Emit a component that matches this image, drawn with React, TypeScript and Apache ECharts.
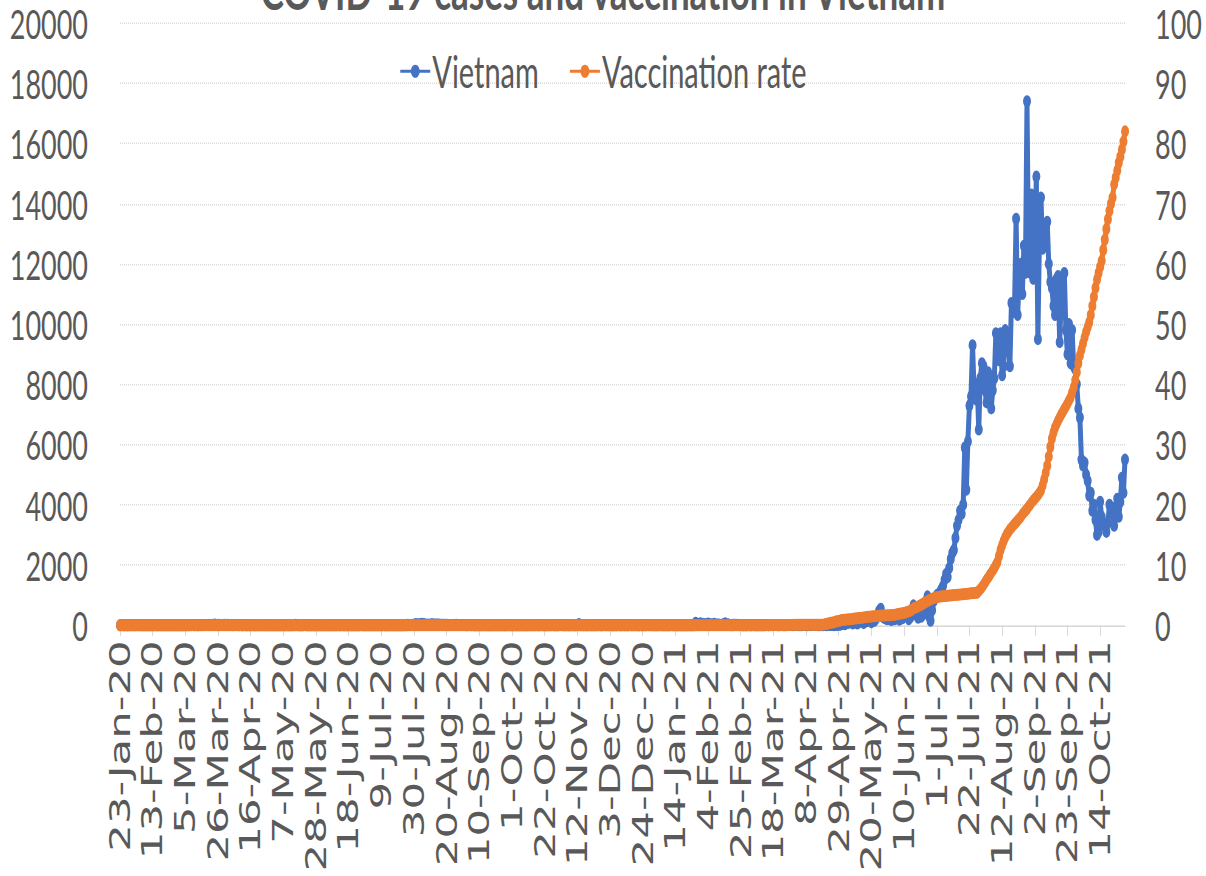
import React, { useEffect, useRef } from "react";
import * as echarts from "echarts";

// First day of the daily series: 23-Jan-2020 (last day: 30-Oct-2021)
const START_YEAR = 2020;
const START_MONTH = 0;
const START_DAY = 23;
const MONTH_NAMES = ["Jan", "Feb", "Mar", "Apr", "May", "Jun", "Jul", "Aug", "Sep", "Oct", "Nov", "Dec"];

const SERIES_NAMES = ["Vietnam", "Vaccination rate"];
const TITLE = "COVID-19 cases and vaccination in Vietnam";

// Daily new cases (left axis)
const casesVietnam = [
  // Jan 2020 (23-31)
  0, 2, 0, 0, 0, 0, 0, 0, 2,
  // Feb 2020
  0, 1, 2, 0, 2, 0, 1, 0, 0, 0, 0, 0, 0, 0, 0, 0, 0, 0, 0, 0, 0, 0, 0, 0, 0, 0, 0, 0, 0,
  // Mar 2020
  0, 0, 0, 0, 0, 2, 1, 2, 6, 9, 3, 8, 1, 9, 3, 4, 8, 8, 6, 6, 9, 7, 16, 21, 11, 14, 5, 5, 4, 15, 8,
  // Apr 2020
  14, 10, 6, 3, 4, 10, 4, 6, 3, 2, 1, 4, 1, 2, 0, 0, 3, 0, 0, 0, 0, 0, 2, 0, 0, 0, 0, 0, 0, 0,
  // May 2020
  0, 0, 0, 0, 0, 0, 0, 0, 0, 0, 0, 0, 0, 0, 15, 2, 0, 0, 0, 2, 4, 1, 0, 1, 1, 0, 0, 0, 0, 1, 1,
  // Jun 2020
  0, 0, 0, 0, 0, 0, 0, 1, 1, 0, 2, 0, 0, 2, 0, 0, 0, 0, 0, 0, 0, 0, 0, 0, 0, 3, 0, 0, 0, 0,
  // Jul 2020
  0, 0, 0, 0, 0, 0, 0, 0, 0, 0, 0, 0, 0, 0, 0, 0, 0, 0, 0, 0, 0, 0, 1, 0, 3, 15, 11, 11, 13, 9, 45,
  // Aug 2020
  28, 32, 31, 51, 43, 30, 20, 21, 14, 30, 29, 27, 21, 22, 24, 20, 18, 16, 13, 13, 10, 9, 8, 7, 6, 12, 11, 9, 8, 5, 4,
  // Sep 2020
  3, 2, 3, 4, 2, 1, 1, 0, 1, 0, 0, 0, 2, 1, 0, 0, 0, 0, 0, 1, 3, 0, 0, 1, 0, 0, 0, 0, 3, 0,
  // Oct 2020
  1, 1, 1, 1, 0, 0, 0, 0, 0, 0, 0, 1, 1, 3, 0, 0, 3, 0, 1, 4, 0, 0, 0, 0, 2, 0, 6, 0, 0, 1, 0,
  // Nov 2020
  7, 7, 0, 0, 3, 1, 0, 0, 2, 1, 1, 3, 42, 2, 0, 2, 0, 0, 0, 3, 1, 0, 1, 2, 0, 7, 1, 0, 6, 2,
  // Dec 2020
  3, 1, 7, 0, 0, 1, 0, 4, 0, 1, 1, 2, 0, 0, 1, 5, 0, 0, 2, 1, 0, 0, 3, 0, 0, 0, 4, 2, 2, 2, 0,
  // Jan 2021
  0, 0, 0, 2, 2, 0, 0, 0, 0, 1, 3, 2, 0, 0, 0, 0, 0, 1, 0, 1, 0, 0, 0, 0, 0, 0, 84, 2, 44, 69, 46,
  // Feb 2021
  40, 34, 30, 57, 45, 27, 28, 53, 19, 26, 27, 5, 13, 38, 62, 18, 30, 9, 0, 20, 13, 12, 9, 11, 8, 1, 0, 0,
  // Mar 2021
  0, 8, 1, 3, 3, 3, 1, 1, 3, 0, 0, 1, 2, 4, 0, 3, 2, 2, 5, 2, 0, 1, 9, 0, 0, 0, 10, 3, 6, 2, 3,
  // Apr 2021
  5, 9, 2, 3, 0, 7, 8, 3, 2, 5, 2, 5, 10, 4, 4, 1, 2, 3, 0, 9, 1, 7, 15, 6, 4, 1, 10, 10, 18, 13,
  // May 2021
  54, 41, 30, 86, 72, 118, 114, 58, 90, 118, 55, 100, 150, 140, 70, 160, 130, 165, 216, 100,
  180, 150, 225, 320, 480, 550, 300, 250, 230, 200, 260,
  // Jun 2021
  190, 170, 280, 200, 250, 300, 180, 220, 230, 350, 320, 280, 200, 260, 400, 660, 500, 350, 250, 300,
  280, 350, 450, 700, 960, 300, 150, 500, 800, 900,
  // Jul 2021
  1000, 1000, 1100, 1200, 1300, 1500, 1700, 1600, 1900, 2200,
  2400, 2500, 2900, 3300, 3500, 3800, 3700, 4000, 5900, 4500,
  6100, 7300, 7600, 9300, 7800, 7500, 8000, 6500, 8200, 8700,
  8600,
  // Aug 2021
  7800, 7400, 8400, 7600, 7200, 7800, 8200, 9700, 9200, 8800,
  9700, 8300, 8600, 9800, 9500, 9300, 8600, 10700, 10400, 10600,
  13500, 10300, 11500, 12000, 11000, 12600, 11700, 17400, 12100, 11700,
  14300,
  // Sep 2021
  11500, 12400, 14900, 9500, 12800, 14200, 12500, 12800, 13300, 13400,
  12000, 11400, 11200, 10600, 10300, 11500, 11600, 9400, 10800, 11300,
  11700, 9800, 9000, 10000, 8700, 9800, 8600, 8500, 8000, 7200,
  // Oct 2021 (1-30)
  6900, 5500, 5300, 5400, 5000, 4800, 4300, 4400, 3800, 4000,
  3500, 3000, 3100, 4100, 3600, 3400, 3300, 3100, 3400, 4000,
  3800, 3900, 3300, 3700, 4200, 3600, 4100, 4900, 4400, 5500,
];

// Vaccination rate, % (right axis)
const vaccinationRate = [
  // 23-Jan-2020 .. 7-Mar-2021: no vaccination yet (410 days)
  0, 0, 0, 0, 0, 0, 0, 0, 0, 0, 0, 0, 0, 0, 0, 0, 0, 0, 0, 0,
  0, 0, 0, 0, 0, 0, 0, 0, 0, 0, 0, 0, 0, 0, 0, 0, 0, 0, 0, 0,
  0, 0, 0, 0, 0, 0, 0, 0, 0, 0, 0, 0, 0, 0, 0, 0, 0, 0, 0, 0,
  0, 0, 0, 0, 0, 0, 0, 0, 0, 0, 0, 0, 0, 0, 0, 0, 0, 0, 0, 0,
  0, 0, 0, 0, 0, 0, 0, 0, 0, 0, 0, 0, 0, 0, 0, 0, 0, 0, 0, 0,
  0, 0, 0, 0, 0, 0, 0, 0, 0, 0, 0, 0, 0, 0, 0, 0, 0, 0, 0, 0,
  0, 0, 0, 0, 0, 0, 0, 0, 0, 0, 0, 0, 0, 0, 0, 0, 0, 0, 0, 0,
  0, 0, 0, 0, 0, 0, 0, 0, 0, 0, 0, 0, 0, 0, 0, 0, 0, 0, 0, 0,
  0, 0, 0, 0, 0, 0, 0, 0, 0, 0, 0, 0, 0, 0, 0, 0, 0, 0, 0, 0,
  0, 0, 0, 0, 0, 0, 0, 0, 0, 0, 0, 0, 0, 0, 0, 0, 0, 0, 0, 0,
  0, 0, 0, 0, 0, 0, 0, 0, 0, 0, 0, 0, 0, 0, 0, 0, 0, 0, 0, 0,
  0, 0, 0, 0, 0, 0, 0, 0, 0, 0, 0, 0, 0, 0, 0, 0, 0, 0, 0, 0,
  0, 0, 0, 0, 0, 0, 0, 0, 0, 0, 0, 0, 0, 0, 0, 0, 0, 0, 0, 0,
  0, 0, 0, 0, 0, 0, 0, 0, 0, 0, 0, 0, 0, 0, 0, 0, 0, 0, 0, 0,
  0, 0, 0, 0, 0, 0, 0, 0, 0, 0, 0, 0, 0, 0, 0, 0, 0, 0, 0, 0,
  0, 0, 0, 0, 0, 0, 0, 0, 0, 0, 0, 0, 0, 0, 0, 0, 0, 0, 0, 0,
  0, 0, 0, 0, 0, 0, 0, 0, 0, 0, 0, 0, 0, 0, 0, 0, 0, 0, 0, 0,
  0, 0, 0, 0, 0, 0, 0, 0, 0, 0, 0, 0, 0, 0, 0, 0, 0, 0, 0, 0,
  0, 0, 0, 0, 0, 0, 0, 0, 0, 0, 0, 0, 0, 0, 0, 0, 0, 0, 0, 0,
  0, 0, 0, 0, 0, 0, 0, 0, 0, 0, 0, 0, 0, 0, 0, 0, 0, 0, 0, 0,
  0, 0, 0, 0, 0, 0, 0, 0, 0, 0,
  // 8-Mar-2021 .. 31-Mar-2021
  0, 0, 0, 0, 0.01, 0.01, 0.01, 0.01, 0.02, 0.02, 0.02, 0.03, 0.03, 0.03, 0.03, 0.04, 0.04, 0.04,
  0.05, 0.05, 0.05, 0.05, 0.05, 0.06,
  // Apr 2021
  0.06, 0.06, 0.06, 0.06, 0.06, 0.06, 0.06, 0.06, 0.06, 0.07, 0.07, 0.07, 0.07, 0.07, 0.08, 0.08, 0.08, 0.09,
  0.1, 0.15, 0.2, 0.3, 0.35, 0.4, 0.45, 0.5, 0.6, 0.65, 0.7, 0.8,
  // May 2021
  0.85, 0.9, 0.92, 0.95, 0.97, 1.0, 1.0, 1.05, 1.1, 1.12,
  1.15, 1.2, 1.22, 1.25, 1.3, 1.32, 1.35, 1.4, 1.42, 1.45,
  1.48, 1.5, 1.52, 1.55, 1.57, 1.6, 1.6, 1.62, 1.63, 1.65,
  1.66,
  // Jun 2021
  1.67, 1.68, 1.7, 1.75, 1.8, 1.85, 1.9, 1.95, 2.0, 2.05,
  2.1, 2.2, 2.3, 2.4, 2.55, 2.8, 2.9, 3.0, 3.1, 3.25,
  3.4, 3.55, 3.7, 3.85, 4.0, 4.15, 4.3, 4.4, 4.5, 4.6,
  // Jul 2021
  4.65, 4.7, 4.75, 4.8, 4.82, 4.85, 4.87, 4.9, 4.92, 4.95,
  4.97, 5.0, 5.02, 5.05, 5.07, 5.1, 5.12, 5.15, 5.18, 5.2,
  5.23, 5.26, 5.3, 5.33, 5.36, 5.38, 5.4, 5.7, 6.0, 6.3,
  6.7,
  // Aug 2021
  7.1, 7.5, 7.9, 8.3, 8.7, 9.1, 9.5, 10.0, 10.5, 11.5,
  12.5, 13.3, 14.0, 14.6, 15.1, 15.5, 15.9, 16.2, 16.5, 16.8,
  17.1, 17.4, 17.7, 18.0, 18.4, 18.7, 19.0, 19.3, 19.7, 20.0,
  20.4,
  // Sep 2021
  20.7, 21.0, 21.3, 21.6, 22.0, 22.4, 23.2, 24.2, 25.3, 26.5,
  28.0, 29.6, 31.0, 32.0, 32.8, 33.4, 34.0, 34.5, 35.0, 35.4,
  35.9, 36.3, 36.8, 37.3, 37.8, 38.6, 39.5, 40.7, 42.0, 43.5,
  // Oct 2021 (1-30)
  44.8, 45.8, 46.8, 47.8, 48.7, 49.5, 50.3, 51.5, 53.0, 54.5,
  56.0, 57.4, 58.5, 59.5, 60.5, 62.3, 64.0, 65.8, 67.4, 68.8,
  70.0, 71.0, 73.2, 74.3, 75.5, 76.8, 77.8, 79.0, 80.3, 82.0,
];

// Axis scales
const LEFT_MIN = 0;
const LEFT_MAX = 20000;
const LEFT_STEP = 2000;
const RIGHT_MIN = 0;
const RIGHT_MAX = 100;
const RIGHT_STEP = 10;
const LABEL_EVERY = 21; // one date label every 21 days

function buildDates(n: number): string[] {
  const out: string[] = [];
  const t0 = Date.UTC(START_YEAR, START_MONTH, START_DAY);
  for (let i = 0; i < n; i++) {
    const d = new Date(t0 + i * 86400000);
    out.push(`${d.getUTCDate()}-${MONTH_NAMES[d.getUTCMonth()]}-${String(d.getUTCFullYear()).slice(2)}`);
  }
  return out;
}

const TEXT = "#595959";
const GRID = "#d9d9d9";
const BLUE = "#4472C4";
const ORANGE = "#ED7D31";
const NUM_FONT = "Lato, 'Open Sans', sans-serif";
const DATE_FONT = "'DejaVu Sans', sans-serif";

export default function App() {
  const ref = useRef<HTMLDivElement | null>(null);

  useEffect(() => {
    if (!ref.current) return;
    const chart = echarts.init(ref.current, undefined, { renderer: "svg" });
    const n = Math.min(casesVietnam.length, vaccinationRate.length);
    const dates = buildDates(n);

    chart.setOption({
      animation: false,
      backgroundColor: "#ffffff",
      title: {
        text: TITLE,
        left: "center",
        top: -29,
        textStyle: { fontFamily: NUM_FONT, fontWeight: "bold", fontSize: 35, color: TEXT },
      },
      legend: {
        data: SERIES_NAMES,
        top: 28,
        left: "center",
        itemWidth: 30,
        itemHeight: 11,
        itemGap: 30,
        textStyle: { fontFamily: NUM_FONT, fontSize: 29, color: TEXT, padding: [0, 0, 0, -3] },
      },
      grid: { left: 120, right: 81, top: 15.3, bottom: 166, containLabel: false },
      xAxis: {
        type: "category",
        data: dates,
        boundaryGap: false,
        axisLine: { show: true, lineStyle: { color: GRID, width: 1 } },
        axisTick: { show: true, interval: LABEL_EVERY - 1, length: 7, lineStyle: { color: GRID, width: 1 } },
        axisLabel: {
          interval: LABEL_EVERY - 1,
          rotate: 90,
          margin: 10,
          fontFamily: DATE_FONT,
          fontSize: 29,
          color: TEXT,
        },
        splitLine: { show: false },
      },
      yAxis: [
        {
          type: "value",
          min: LEFT_MIN,
          max: LEFT_MAX,
          interval: LEFT_STEP,
          axisLine: { show: false },
          axisTick: { show: false },
          axisLabel: {
            margin: 32,
            fontFamily: NUM_FONT,
            fontSize: 27,
            color: TEXT,
            formatter: (v: number) => String(v),
          },
          splitLine: { show: true, lineStyle: { color: GRID, type: "dotted", width: 1 } },
        },
        {
          type: "value",
          position: "right",
          min: RIGHT_MIN,
          max: RIGHT_MAX,
          interval: RIGHT_STEP,
          axisLine: { show: false },
          axisTick: { show: false },
          axisLabel: {
            margin: 30,
            fontFamily: NUM_FONT,
            fontSize: 27,
            color: TEXT,
            formatter: (v: number) => String(v),
          },
          splitLine: { show: false },
        },
      ],
      series: [
        {
          name: SERIES_NAMES[0],
          type: "line",
          yAxisIndex: 0,
          data: casesVietnam.slice(0, n),
          symbol: "circle",
          symbolSize: 8,
          showSymbol: true,
          showAllSymbol: true,
          lineStyle: { color: BLUE, width: 5 },
          itemStyle: { color: BLUE },
          z: 2,
        },
        {
          name: SERIES_NAMES[1],
          type: "line",
          yAxisIndex: 1,
          data: vaccinationRate.slice(0, n),
          symbol: "circle",
          symbolSize: 8,
          showSymbol: true,
          showAllSymbol: true,
          lineStyle: { color: ORANGE, width: 5 },
          itemStyle: { color: ORANGE },
          z: 3,
        },
      ],
    });

    return () => chart.dispose();
  }, []);

  return (
    <div
      ref={ref}
      style={{
        position: "absolute",
        left: 0,
        top: 0,
        width: 1206,
        height: 584,
        transform: "scaleY(1.5)",
        transformOrigin: "0 0",
        overflow: "hidden",
      }}
    />
  );
}
